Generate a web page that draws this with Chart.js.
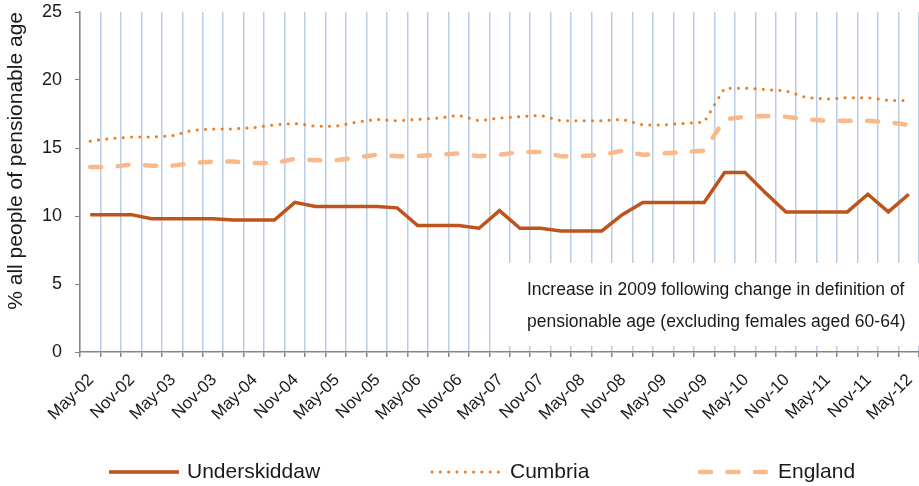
<!DOCTYPE html>
<html>
<head>
<meta charset="utf-8">
<script src="https://cdn.jsdelivr.net/npm/chart.js@4.4.1/dist/chart.umd.min.js"></script>
<style>
  html, body { margin: 0; padding: 0; background: #fff; overflow: hidden; }
</style>
</head>
<body>
<canvas id="pensionChart" width="919" height="486"></canvas>
<script>
// quarterly, May 2002 to May 2012
var quarters = ["May-02", "Aug-02", "Nov-02",
  "Feb-03", "May-03", "Aug-03", "Nov-03",
  "Feb-04", "May-04", "Aug-04", "Nov-04",
  "Feb-05", "May-05", "Aug-05", "Nov-05",
  "Feb-06", "May-06", "Aug-06", "Nov-06",
  "Feb-07", "May-07", "Aug-07", "Nov-07",
  "Feb-08", "May-08", "Aug-08", "Nov-08",
  "Feb-09", "May-09", "Aug-09", "Nov-09",
  "Feb-10", "May-10", "Aug-10", "Nov-10",
  "Feb-11", "May-11", "Aug-11", "Nov-11",
  "Feb-12", "May-12"];

var underskiddaw = [10.1, 10.1, 10.1, 9.8, 9.8, 9.8, 9.8, 9.7, 9.7, 9.7,
  11.0, 10.7, 10.7, 10.7, 10.7, 10.6, 9.3, 9.3, 9.3, 9.1,
  10.4, 9.1, 9.1, 8.9, 8.9, 8.9, 10.1, 11.0, 11.0, 11.0,
  11.0, 13.2, 13.2, 11.7, 10.3, 10.3, 10.3, 10.3, 11.6, 10.3,
  11.6];

var cumbria = [15.5, 15.7, 15.8, 15.8, 15.9, 16.3, 16.4, 16.4, 16.5, 16.7,
  16.8, 16.6, 16.6, 16.9, 17.1, 17.0, 17.1, 17.2, 17.4, 17.0,
  17.2, 17.3, 17.4, 17.0, 17.0, 17.0, 17.1, 16.7, 16.7, 16.8,
  16.9, 19.4, 19.4, 19.3, 19.2, 18.7, 18.6, 18.7, 18.7, 18.5,
  18.5];

var england = [13.6, 13.6, 13.8, 13.7, 13.7, 13.9, 14.0, 14.0, 13.9, 13.9,
  14.2, 14.1, 14.1, 14.3, 14.5, 14.4, 14.4, 14.5, 14.6, 14.4,
  14.5, 14.7, 14.7, 14.4, 14.4, 14.5, 14.8, 14.5, 14.6, 14.7,
  14.8, 17.1, 17.3, 17.35, 17.3, 17.1, 17.0, 17.0, 17.0, 16.9,
  16.7];

var yTicks = [0, 5, 10, 15, 20, 25];

var note = ["Increase in 2009 following change in definition of",
  "pensionable age (excluding females aged 60-64)"];

var fontFam = "'Liberation Sans', Arial, sans-serif";
var textCol = "#1a1a1a";
var axisCol = "#868686";

// white box with the note, sits over the grid lines but under the lines
var noteBox = {
  id: "noteBox",
  beforeDatasetsDraw: function (chart) {
    var c = chart.ctx;
    var a = chart.chartArea;
    c.save();
    c.fillStyle = "#ffffff";
    c.fillRect(501, 263, a.right - 501, a.bottom - 6 - 263);
    c.fillStyle = textCol;
    c.font = "17.5px " + fontFam;
    c.textBaseline = "middle";
    c.fillText(note[0], 527, 290);
    c.fillText(note[1], 527, 322);
    c.restore();
  }
};

// legend spread out along the bottom like the original
var bottomLegend = {
  id: "bottomLegend",
  afterDraw: function (chart) {
    var c = chart.ctx;
    var starts = [109, 432, 700];
    var y = 472;
    chart.data.datasets.forEach(function (ds, i) {
      var x = starts[i];
      c.save();
      c.strokeStyle = ds.borderColor;
      c.lineWidth = ds.borderWidth;
      c.lineCap = ds.borderCapStyle || "butt";
      c.setLineDash(ds.borderDash || []);
      c.beginPath();
      c.moveTo(x, y);
      c.lineTo(x + 70, y);
      c.stroke();
      c.setLineDash([]);
      c.fillStyle = textCol;
      c.font = "21px " + fontFam;
      c.textBaseline = "middle";
      c.fillText(ds.label, x + 78, y);
      c.restore();
    });
  }
};

var ctx = document.getElementById("pensionChart");

var myLineChart = new Chart(ctx, {
  type: "line",
  data: {
    labels: quarters,
    datasets: [
      {
        label: "Underskiddaw",
        data: underskiddaw,
        borderColor: "#BE531C",
        backgroundColor: "#BE531C",
        borderWidth: 3.5,
        pointRadius: 0,
        tension: 0
      },
      {
        label: "Cumbria",
        data: cumbria,
        borderColor: "#F07C21",
        backgroundColor: "#F07C21",
        borderWidth: 3,
        borderDash: [0.1, 8.2],
        borderCapStyle: "round",
        pointRadius: 0,
        tension: 0
      },
      {
        label: "England",
        data: england,
        borderColor: "#FAB98B",
        backgroundColor: "#FAB98B",
        borderWidth: 4.5,
        borderDash: [11, 16.5],
        borderCapStyle: "round",
        pointRadius: 0,
        tension: 0
      }
    ]
  },
  options: {
    responsive: false,
    animation: false,
    devicePixelRatio: 1,
    layout: { padding: { top: 12, right: 0, bottom: 40, left: 0 } },
    plugins: {
      legend: { display: false },
      tooltip: { enabled: false }
    },
    scales: {
      x: {
        offset: true,
        grid: {
          offset: true,
          color: "#B9CDE5",
          lineWidth: 1.5,
          tickColor: axisCol,
          tickLength: 5
        },
        border: { color: axisCol, width: 1.5 },
        ticks: {
          autoSkip: false,
          maxRotation: 45,
          minRotation: 45,
          padding: 13,
          labelOffset: 1,
          color: textCol,
          font: { family: fontFam, size: 17 },
          callback: function (v, i) {
            return i % 2 === 0 ? quarters[i] : "";
          }
        },
        afterFit: function (s) {
          s.height = 94;
          s.paddingLeft = 0;
          s.paddingRight = 0;
        }
      },
      y: {
        min: yTicks[0],
        max: yTicks[yTicks.length - 1],
        afterBuildTicks: function (s) {
          s.ticks = yTicks.map(function (v) { return { value: v }; });
        },
        grid: {
          drawOnChartArea: false,
          tickLength: 5,
          tickColor: axisCol
        },
        border: { color: axisCol, width: 1.5 },
        ticks: {
          padding: 13,
          color: textCol,
          font: { family: fontFam, size: 18 }
        },
        title: {
          display: true,
          text: "% all people of pensionable age",
          align: "end",
          color: textCol,
          font: { family: fontFam, size: 21 },
          padding: { top: 4, bottom: 0 }
        },
        afterFit: function (s) {
          s.width = 80;
          s.paddingTop = 0;
          s.paddingBottom = 0;
        }
      }
    }
  },
  plugins: [noteBox, bottomLegend]
});
</script>
</body>
</html>
